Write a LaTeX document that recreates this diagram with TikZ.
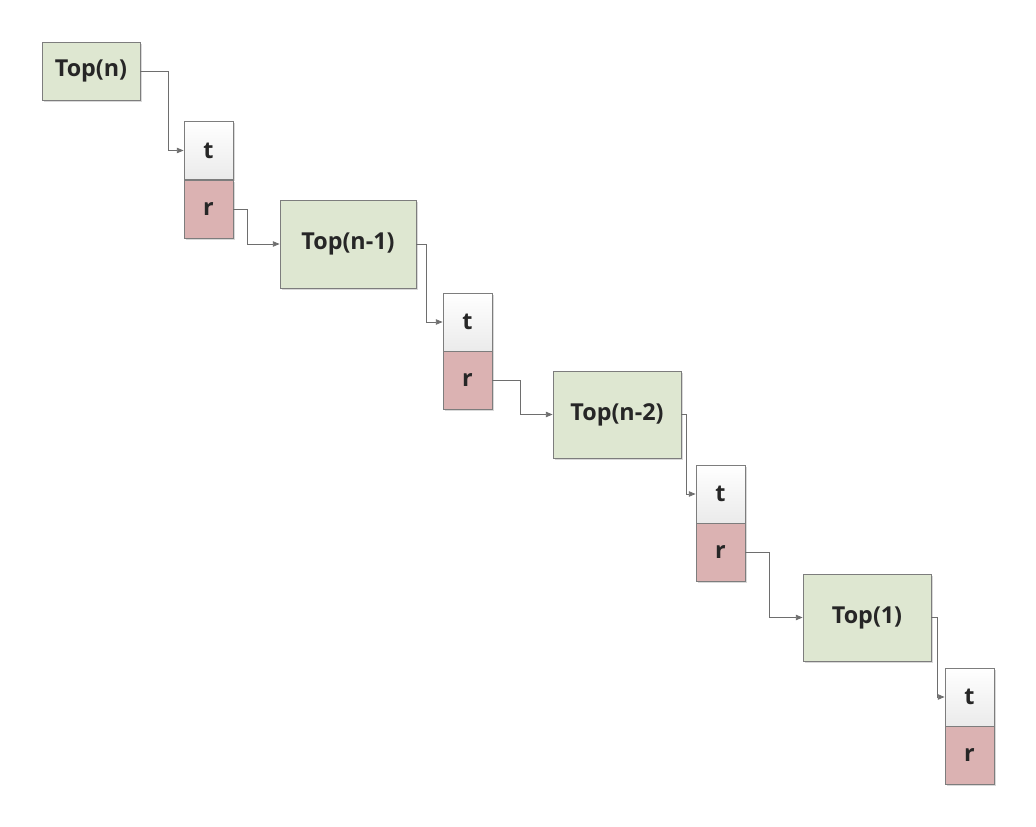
\documentclass[tikz,border=0pt]{standalone}
\usepackage{fontspec}
\setmainfont{Open Sans}
\usetikzlibrary{arrows.meta,shadows}
\definecolor{topgreen}{RGB}{222,231,209}
\definecolor{rred}{RGB}{219,178,178}
\definecolor{edgegray}{RGB}{125,125,125}
\definecolor{linegray}{RGB}{110,110,110}
\definecolor{txt}{RGB}{38,38,38}
\tikzset{
  box/.style={draw=edgegray, line width=0.6pt, inner sep=0pt, font=\fontsize{17.5}{20}\selectfont\bfseries, text=txt,
    drop shadow={shadow xshift=1.2pt, shadow yshift=-1.2pt, opacity=0.15, fill=black}},
  topbox/.style={box, fill=topgreen},
  tbox/.style={box, top color=white, bottom color=black!8, minimum width=36.75pt, minimum height=43.5pt},
  rbox/.style={box, fill=rred, minimum width=36.75pt, minimum height=43.5pt},
  conn/.style={draw=linegray, line width=0.6pt, -{Triangle[length=5pt,width=4pt]}}
}
\begin{document}
\begin{tikzpicture}[x=0.75pt,y=-0.75pt]
\useasboundingbox (0,0) rectangle (1036,827);
% Top boxes
\node[topbox, minimum width=73.5pt, minimum height=43.5pt] (a) at (91,71) {Top(n)};
\node[topbox, minimum width=102pt, minimum height=66pt] (b) at (348,244) {Top(n-1)};
\node[topbox, minimum width=96pt, minimum height=65.25pt] (c) at (617,414.5) {Top(n-2)};
\node[topbox, minimum width=96pt, minimum height=65.25pt] (d) at (867,617.5) {Top(1)};
% t / r boxes
\node[tbox] (t1) at (208.5,150.5) {t};
\node[rbox] (r1) at (208.5,209) {r};
\node[tbox] (t2) at (467.5,322) {t};
\node[rbox] (r2) at (467.5,380) {r};
\node[tbox] (t3) at (720.5,494) {t};
\node[rbox] (r3) at (720.5,552) {r};
\node[tbox] (t4) at (969.5,697) {t};
\node[rbox] (r4) at (969.5,755) {r};
% connectors
\draw[conn] (a.east) -- ++(28,0) |- (t1.west);
\draw[conn] (r1.east) -- ++(14,0) |- (b.west);
\draw[conn] (b.east) -- ++(10,0) |- (t2.west);
\draw[conn] (r2.east) -- ++(28,0) |- (c.west);
\draw[conn] (c.east) -- ++(5,0) |- (t3.west);
\draw[conn] (r3.east) -- ++(24,0) |- (d.west);
\draw[conn] (d.east) -- ++(6,0) |- (t4.west);
\end{tikzpicture}
\end{document}
